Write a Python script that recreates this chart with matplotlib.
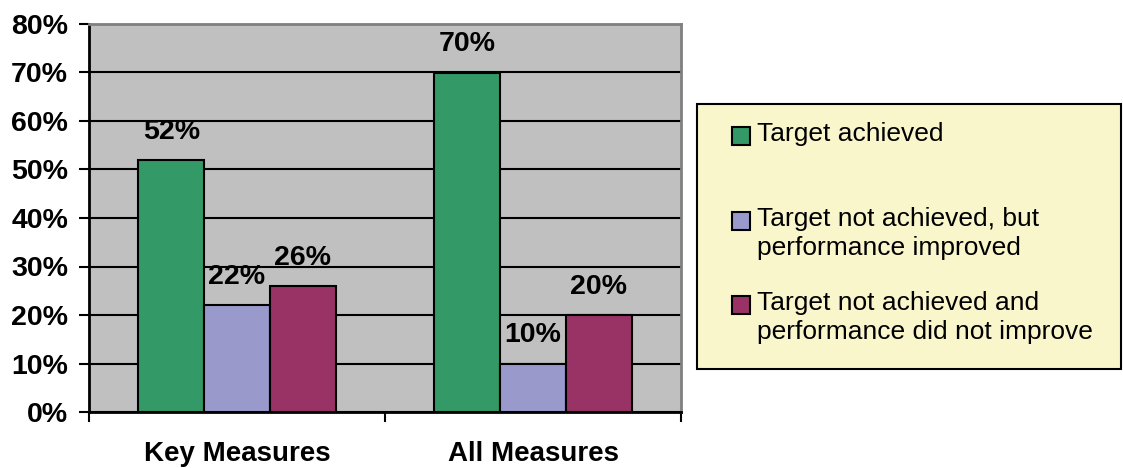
import numpy as np
import matplotlib.pyplot as plt
from matplotlib.patches import Rectangle

plt.rcParams['font.family'] = ['Liberation Sans', 'DejaVu Sans']

# data
categories = ["Key Measures", "All Measures"]
series_labels = ["Target achieved",
                 "Target not achieved, but\nperformance improved",
                 "Target not achieved and\nperformance did not improve"]
achieved = [0.52, 0.70]
improved = [0.22, 0.10]
not_improved = [0.26, 0.20]
colors = ["#339966", "#9999CC", "#993366"]

series = [achieved, improved, not_improved]

W, H = 1123, 468
fig = plt.figure(figsize=(W / 100, H / 100), dpi=100)
ax = fig.add_axes([89 / W, 1 - 412 / H, (681 - 89) / W, (412 - 24) / H])
ax.set_facecolor("#C0C0C0")

x = np.arange(len(categories))
bw = 1 / 4.5
for i, vals in enumerate(series):
    bars = ax.bar(x + (i - 1) * bw, vals, bw, color=colors[i],
                  edgecolor="black", linewidth=1.5, zorder=3)
    for b, v in zip(bars, vals):
        ax.annotate(f"{v:.0%}", (b.get_x() + b.get_width() / 2, v),
                    xytext=(0, 11), textcoords="offset points",
                    ha="center", va="bottom", fontsize=20.5,
                    fontweight="bold", zorder=4)

ax.set_xlim(-0.5, 1.5)
ax.set_ylim(0, 0.8)
ax.set_yticks(np.arange(0, 0.81, 0.1))
ax.set_yticklabels([f"{t:.0%}" for t in np.arange(0, 0.81, 0.1)],
                   fontsize=20.5, fontweight="bold")
ax.yaxis.grid(True, color="black", linewidth=1.5, zorder=1)
ax.set_axisbelow(True)

ax.set_xticks([-0.5, 0.5, 1.5])
ax.set_xticklabels([])
ax.set_xticks(x, minor=True)
ax.set_xticklabels(categories, minor=True, fontsize=20, fontweight="bold")
ax.tick_params(axis="x", which="minor", length=0, pad=21)
ax.tick_params(axis="x", which="major", length=7, width=1.5, direction="out")
ax.tick_params(axis="y", length=7, width=1.5, direction="out", pad=8)

for s in ["left", "bottom"]:
    ax.spines[s].set_color("black")
    ax.spines[s].set_linewidth(2)
for s in ["top", "right"]:
    ax.spines[s].set_color("#808080")
    ax.spines[s].set_linewidth(2)

# legend box drawn in figure pixels
fig.add_artist(Rectangle((697 / W, 1 - 369 / H), (1121 - 697) / W, (369 - 104) / H,
                         transform=fig.transFigure, facecolor="#FAF6CC",
                         edgecolor="black", linewidth=1.5))
handle_y = [136, 221, 305]
for lab, col, hy in zip(series_labels, colors, handle_y):
    fig.add_artist(Rectangle((732 / W, 1 - (hy + 9) / H), 18 / W, 18 / H,
                             transform=fig.transFigure, facecolor=col,
                             edgecolor="black", linewidth=1.5))
    fig.text(757 / W, 1 - (hy - 14) / H, lab, fontsize=19, va="top",
             ha="left", linespacing=1.28)

fig.savefig("out.png", dpi=100)
